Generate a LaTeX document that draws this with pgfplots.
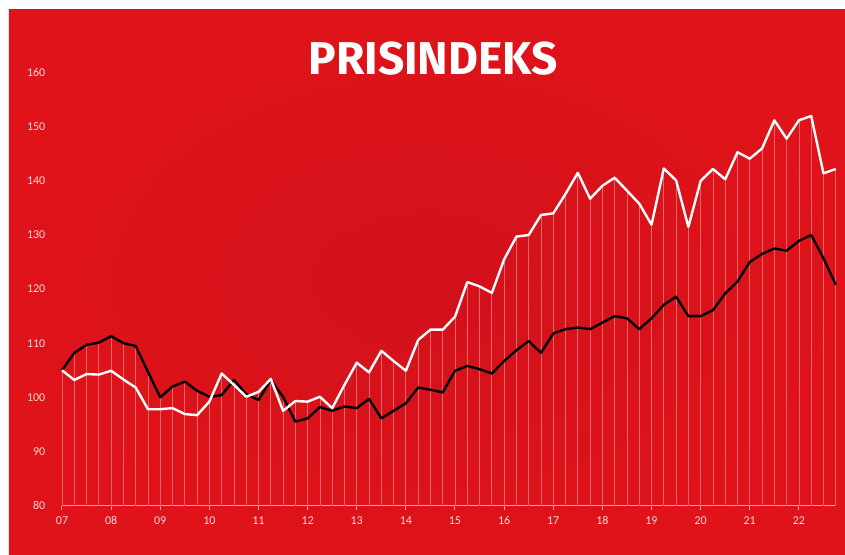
\documentclass[border=0pt]{standalone}
\usepackage{pgfplots}
\pgfplotsset{compat=1.18}
\usepackage{pgfplotstable}
\usepackage{fontspec}
\setmainfont{Carlito}
\newfontfamily\titlefont{Fira Sans}
\definecolor{bgred}{RGB}{223,19,25}
\definecolor{bgdark}{RGB}{210,17,27}
\definecolor{droppink}{RGB}{232,100,106}
\definecolor{labpink}{RGB}{250,215,215}
\definecolor{axpink}{RGB}{242,160,160}
\pgfplotstableread{
x w b
2007.00 105.0 105.0
2007.25 103.2 108.2
2007.50 104.3 109.7
2007.75 104.2 110.1
2008.00 104.9 111.3
2008.25 103.3 110.0
2008.50 101.8 109.5
2008.75 97.8 104.7
2009.00 97.8 100.0
2009.25 98.0 102.0
2009.50 96.9 102.9
2009.75 96.7 101.2
2010.00 99.2 100.1
2010.25 104.4 100.4
2010.50 102.3 103.2
2010.75 100.1 100.6
2011.00 101.0 99.5
2011.25 103.4 103.2
2011.50 97.5 100.1
2011.75 99.3 95.5
2012.00 99.2 96.1
2012.25 100.1 98.2
2012.50 98.0 97.5
2012.75 102.3 98.3
2013.00 106.4 98.0
2013.25 104.6 99.7
2013.50 108.6 96.1
2013.75 106.7 97.5
2014.00 104.9 98.9
2014.25 110.6 101.8
2014.50 112.5 101.4
2014.75 112.5 100.9
2015.00 114.9 104.9
2015.25 121.3 105.8
2015.50 120.5 105.2
2015.75 119.3 104.4
2016.00 125.5 106.7
2016.25 129.7 108.7
2016.50 130.0 110.4
2016.75 133.7 108.2
2017.00 134.0 111.8
2017.25 137.6 112.6
2017.50 141.5 112.9
2017.75 136.7 112.6
2018.00 139.1 113.8
2018.25 140.6 115.0
2018.50 138.2 114.6
2018.75 135.8 112.6
2019.00 131.9 114.6
2019.25 142.3 117.1
2019.50 140.1 118.6
2019.75 131.5 115.0
2020.00 140.0 115.0
2020.25 142.2 116.1
2020.50 140.3 119.2
2020.75 145.3 121.4
2021.00 144.1 125.0
2021.25 146.0 126.5
2021.50 151.2 127.5
2021.75 147.8 127.1
2022.00 151.2 128.9
2022.25 152.0 130.0
2022.50 141.4 125.7
2022.75 142.2 120.8
}\data
\begin{document}
\begin{tikzpicture}
\useasboundingbox (-62pt,-48.5pt) rectangle (783pt,505.5pt);
\fill[white] (-62pt,-48.5pt) rectangle (783pt,505.5pt);
\begin{scope}
\clip (-53pt,-48.5pt) rectangle (783pt,495.5pt);
\shade[inner color=bgdark, outer color=bgred] (-53pt,-48.5pt) rectangle (783pt,495.5pt);
\end{scope}
\begin{axis}[
  at={(0pt,0pt)}, anchor=south west,
  scale only axis, width=773.75pt, height=432.8pt,
  xmin=2007, xmax=2022.75, ymin=80, ymax=160,
  axis lines*=left,
  x axis line style={axpink, line width=1.2pt, -},
  y axis line style={draw=none},
  xtick={2007,...,2022},
  xticklabels={07,08,09,10,11,12,13,14,15,16,17,18,19,20,21,22},
  ytick={80,90,...,160},
  tick align=outside,
  x tick style={axpink, line width=1pt},
  major tick length=4pt,
  y tick style={draw=none},
  /pgf/number format/assume math mode=true,
  tick label style={labpink, font=\fontsize{12}{13}\selectfont},
  xticklabel style={anchor=center, inner sep=0pt, yshift=-11pt},
  yticklabel style={anchor=east, inner sep=0pt, xshift=-12.5pt},
  clip=false,
]
\addplot[ycomb, droppink, line width=0.8pt, mark=none] table[x=x,y=b]{\data};
\addplot[ycomb, droppink, line width=0.8pt, mark=none] table[x=x,y=w]{\data};
\addplot[black, line width=2.4pt, line join=round, mark=none] table[x=x,y=b]{\data};
\addplot[white, line width=2.4pt, line join=round, mark=none] table[x=x,y=w]{\data};
\end{axis}
\node[white, inner sep=0pt] at (371pt,447pt) {\titlefont\bfseries\fontsize{46}{46}\selectfont PRISINDEKS};
\end{tikzpicture}
\end{document}
